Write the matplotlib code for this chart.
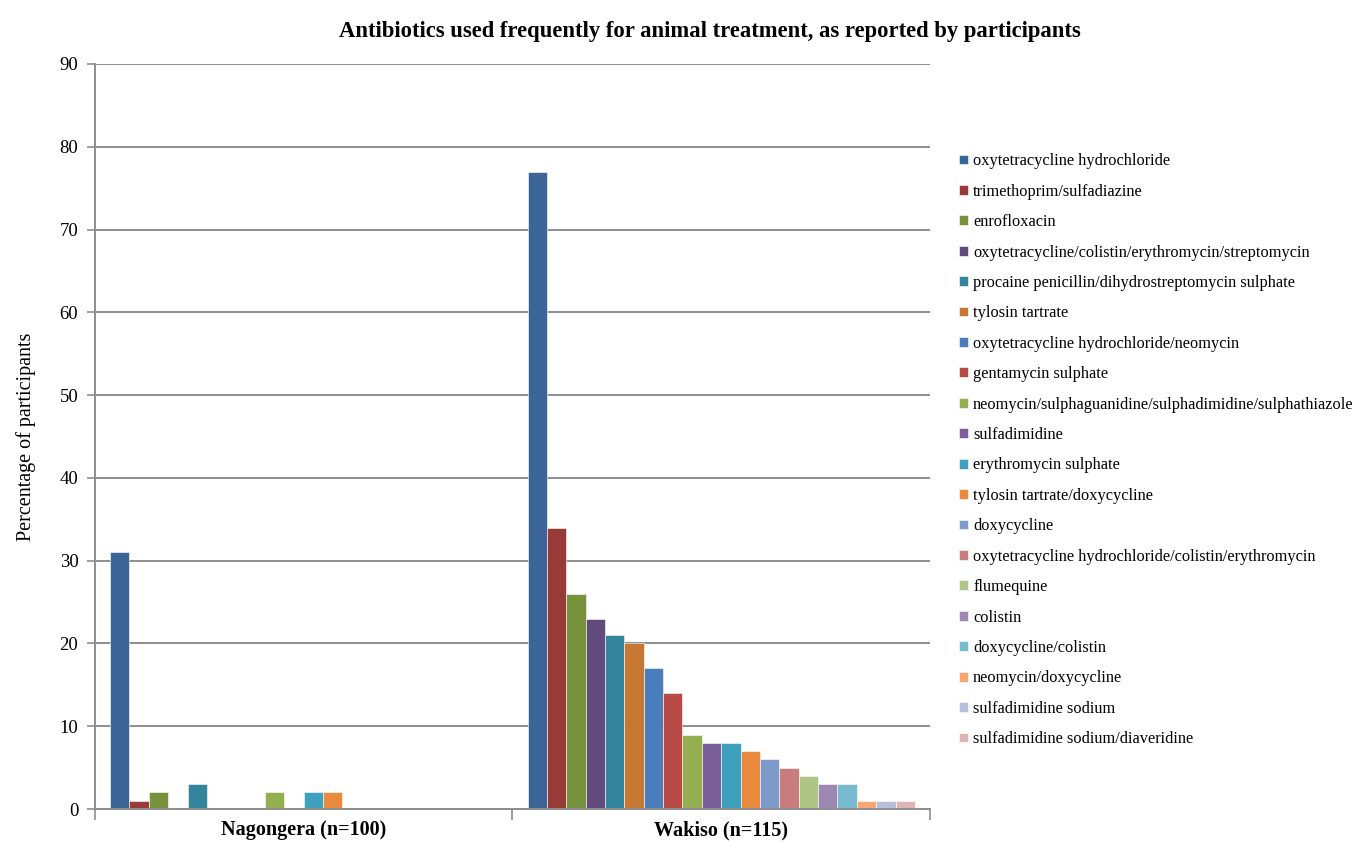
import numpy as np
import matplotlib
matplotlib.use("Agg")
import matplotlib.pyplot as plt

plt.rcParams['font.family'] = ['Liberation Serif', 'DejaVu Serif']

sites = ["Nagongera (n=100)", "Wakiso (n=115)"]

drugs = [
    "oxytetracycline hydrochloride",
    "trimethoprim/sulfadiazine",
    "enrofloxacin",
    "oxytetracycline/colistin/erythromycin/streptomycin",
    "procaine penicillin/dihydrostreptomycin sulphate",
    "tylosin tartrate",
    "oxytetracycline hydrochloride/neomycin",
    "gentamycin sulphate",
    "neomycin/sulphaguanidine/sulphadimidine/sulphathiazole",
    "sulfadimidine",
    "erythromycin sulphate",
    "tylosin tartrate/doxycycline",
    "doxycycline",
    "oxytetracycline hydrochloride/colistin/erythromycin",
    "flumequine",
    "colistin",
    "doxycycline/colistin",
    "neomycin/doxycycline",
    "sulfadimidine sodium",
    "sulfadimidine sodium/diaveridine",
]

nagongera = [31, 1, 2, 0, 3, 0, 0, 0, 2, 0, 2, 2, 0, 0, 0, 0, 0, 0, 0, 0]
wakiso = [77, 34, 26, 23, 21, 20, 17, 14, 9, 8, 8, 7, 6, 5, 4, 3, 3, 1, 1, 1]

colors = [
    "#3B6597", "#983A37", "#77923D", "#614B7C", "#32859C", "#C67733",
    "#4A7DBA", "#B74947", "#93AF4F", "#7A5F9A", "#3EA0BC", "#EA8A3E",
    "#7D9ACB", "#C97C7C", "#ADC585", "#9D88B3", "#78BACE", "#F6A874",
    "#B4C0DC", "#DCB5B4",
]

fig = plt.figure(figsize=(13.57, 8.43), dpi=100)
ax = fig.add_axes([0.070, 0.0403, 0.6153, 0.8838])

n = len(drugs)
w = 0.0464
x = np.arange(len(sites))
for j in range(n):
    vals = [nagongera[j], wakiso[j]]
    ax.bar(x + (j - (n - 1) / 2) * w, vals, width=w, color=colors[j],
           edgecolor="white", linewidth=0.4, label=drugs[j])

ax.set_xlim(-0.5, 1.5)
ax.set_ylim(0, 90)
ax.set_yticks(range(0, 91, 10))
ax.set_axisbelow(True)
ax.yaxis.grid(True, color="#8E8E8E", linewidth=1.4)

# category boundaries get the tick marks, names sit between them
ax.set_xticks([-0.5, 0.5, 1.5])
ax.set_xticklabels([])
ax.set_xticks(x, minor=True)
ax.set_xticklabels(sites, minor=True, fontsize=14.5, fontweight="bold")
ax.tick_params(axis="x", which="major", length=8, width=1.2, color="#8E8E8E")
ax.tick_params(axis="x", which="minor", length=0, pad=8)
ax.tick_params(axis="y", length=6, width=1.2, color="#8E8E8E", labelsize=13.5, pad=6)

for side in ["top", "right"]:
    ax.spines[side].set_visible(False)
for side in ["left", "bottom"]:
    ax.spines[side].set_color("#8E8E8E")
    ax.spines[side].set_linewidth(1.4)

ax.set_ylabel("Percentage of participants", fontsize=14.5, labelpad=17)
fig.suptitle("Antibiotics used frequently for animal treatment, as reported by participants",
             x=0.523, y=0.975, fontsize=16.3, fontweight="bold")

fig.legend(loc="upper left", bbox_to_anchor=(0.702, 0.826), frameon=False,
           fontsize=11.8, handlelength=0.55, handleheight=0.55, handletextpad=0.3,
           labelspacing=0.88, borderaxespad=0)

fig.savefig("out.png", dpi=100)
